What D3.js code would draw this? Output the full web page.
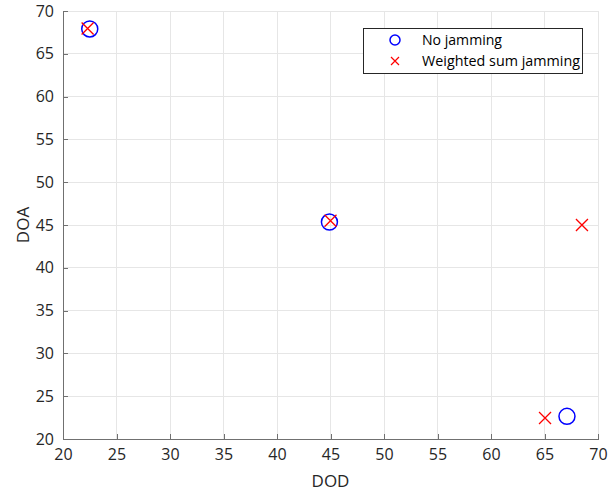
<!DOCTYPE html>
<html><head><meta charset="utf-8">
<script src="https://cdn.jsdelivr.net/npm/d3@7"></script>
<style>body{margin:0;background:#fff}svg{display:block}</style>
</head><body>
<script>
const xTicks = [20,25,30,35,40,45,50,55,60,65,70];
const yTicks = [20,25,30,35,40,45,50,55,60,65,70];
const noJamX = [22.5, 44.9, 67.1];
const noJamY = [67.9, 45.35, 22.65];
const wsJamX = [22.3, 45.0, 65.05, 68.5];
const wsJamY = [67.95, 45.5, 22.45, 45.0];
const seriesNames = ["No jamming", "Weighted sum jamming"];

const W = 616, H = 494;
const m = {left:63, right:18, top:11, bottom:55};
const svg = d3.select("body").append("svg").attr("width",W).attr("height",H);
const x = d3.scaleLinear().domain([20,70]).range([m.left, W-m.right]);
const y = d3.scaleLinear().domain([20,70]).range([H-m.bottom, m.top]);
const font = "'Open Sans', 'DejaVu Sans', sans-serif";

// grid
const g = svg.append("g");
g.selectAll(".gx").data(xTicks).join("line")
 .attr("x1",d=>x(d)).attr("x2",d=>x(d)).attr("y1",y(20)).attr("y2",y(70))
 .attr("stroke","#e6e6e6").attr("stroke-width",1).attr("shape-rendering","crispEdges");
g.selectAll(".gy").data(yTicks).join("line")
 .attr("y1",d=>y(d)).attr("y2",d=>y(d)).attr("x1",x(20)).attr("x2",x(70))
 .attr("stroke","#e6e6e6").attr("stroke-width",1).attr("shape-rendering","crispEdges");

// axes
const xa = svg.append("g").attr("transform",`translate(0,${y(20)})`)
 .call(d3.axisBottom(x).tickValues(xTicks).tickSizeInner(-5).tickSizeOuter(0).tickPadding(10));
const ya = svg.append("g").attr("transform",`translate(${x(20)},0)`)
 .call(d3.axisLeft(y).tickValues(yTicks).tickSizeInner(-5).tickSizeOuter(0).tickPadding(9));
[xa,ya].forEach(a=>{
  a.select(".domain").attr("stroke","#707070").attr("shape-rendering","crispEdges");
  a.selectAll(".tick line").attr("stroke","#707070").attr("shape-rendering","crispEdges");
  a.selectAll("text").attr("fill","#262626").style("font-family",font).style("font-size","16px");
});

svg.append("text").attr("x",x(45)).attr("y",487).attr("text-anchor","middle")
 .attr("fill","#262626").style("font-family",font).style("font-size","17px").text("DOD");
svg.append("text").attr("transform",`translate(29,${y(45)}) rotate(-90)`).attr("text-anchor","middle")
 .attr("fill","#262626").style("font-family",font).style("font-size","17px").text("DOA");

// markers
const circles = noJamX.map((v,i)=>({x:v,y:noJamY[i]}));
const crosses = wsJamX.map((v,i)=>({x:v,y:wsJamY[i]}));
svg.selectAll(".c").data(circles).join("circle")
 .attr("cx",d=>x(d.x)).attr("cy",d=>y(d.y)).attr("r",8)
 .attr("fill","none").attr("stroke","#0000ff").attr("stroke-width",1.5);
const cr = 6;
svg.selectAll(".x").data(crosses).join("path")
 .attr("d",d=>{const cx=x(d.x),cy=y(d.y);return `M${cx-cr},${cy-cr}L${cx+cr},${cy+cr}M${cx-cr},${cy+cr}L${cx+cr},${cy-cr}`;})
 .attr("stroke","#ff0000").attr("stroke-width",1.3).attr("fill","none");

// legend
const lg = svg.append("g");
lg.append("rect").attr("x",363.5).attr("y",28.5).attr("width",219).attr("height",45)
 .attr("fill","#fff").attr("stroke","#262626").attr("stroke-width",1);
lg.append("circle").attr("cx",395).attr("cy",40).attr("r",5)
 .attr("fill","none").attr("stroke","#0000ff").attr("stroke-width",1.5);
lg.append("path").attr("d","M391,57L399,65M391,65L399,57").attr("stroke","#ff0000").attr("stroke-width",1.2);
seriesNames.forEach((n,i)=>{
  lg.append("text").attr("x",422).attr("y",45+i*21).attr("fill","#000")
   .attr("textLength", i===0?80:158).attr("lengthAdjust","spacingAndGlyphs")
   .style("font-family",font).style("font-size","14px").text(n);
});
</script>
</body></html>
